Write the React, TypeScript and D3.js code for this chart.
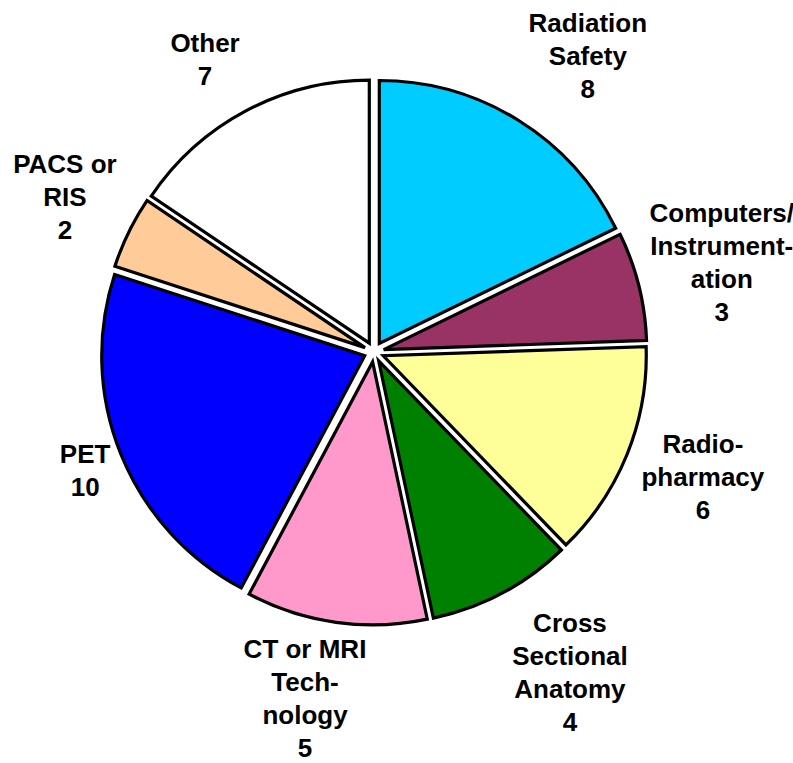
import * as d3 from 'd3';
import { useEffect, useRef } from 'react';

// data
const categories = [
  'Radiation\nSafety',
  'Computers/\nInstrument-\nation',
  'Radio-\npharmacy',
  'Cross\nSectional\nAnatomy',
  'CT or MRI\nTech-\nnology',
  'PET',
  'PACS or\nRIS',
  'Other'
];
const counts = [8, 3, 6, 4, 5, 10, 2, 7];
const colors = ['#00CCFF', '#993366', '#FFFF99', '#008000', '#FF99CC', '#0000FF', '#FFCC99', '#FFFFFF'];

// small label nudges so they sit where the original put them
const labelNudge = [
  [31, -3],
  [13, -6],
  [9, -4],
  [34, 16],
  [-21, 5],
  [31, -11],
  [1, -4],
  [-7, 12]
];

export default function App() {
  const ref = useRef<SVGSVGElement>(null);

  useEffect(() => {
    const svg = d3.select(ref.current);
    svg.selectAll('*').remove();

    const width = 793;
    const height = 763;
    const cx = 374;
    const cy = 352;
    const radius = 263;
    const explode = 10;
    const labelR = 345;
    const lineH = 33;

    const rows = categories.map((c, i) => ({ name: c, value: counts[i], color: colors[i], i }));

    const pie = d3
      .pie<any>()
      .sort(null)
      .value((d) => d.value);
    const arcs = pie(rows);

    const arc = d3.arc<any>().innerRadius(0).outerRadius(radius);
    const labelArc = d3.arc<any>().innerRadius(labelR).outerRadius(labelR);

    const g = svg.attr('width', width).attr('height', height).append('g').attr('transform', `translate(${cx},${cy})`);

    g.selectAll('.slice')
      .data(arcs)
      .join('path')
      .attr('class', 'slice')
      .attr('transform', (d) => {
        const mid = (d.startAngle + d.endAngle) / 2;
        return `translate(${explode * Math.sin(mid)},${-explode * Math.cos(mid)})`;
      })
      .attr('d', arc)
      .attr('fill', (d) => d.data.color)
      .attr('stroke', '#000')
      .attr('stroke-width', 3.2)
      .attr('stroke-linejoin', 'miter');

    const labels = g
      .selectAll('.label')
      .data(arcs)
      .join('text')
      .attr('class', 'label')
      .attr('text-anchor', 'middle')
      .style('font-family', '"Liberation Sans", Arial, sans-serif')
      .style('font-weight', 'bold')
      .style('font-size', '26px')
      .attr('fill', '#000');

    labels.each(function (d) {
      const [x0, y0] = labelArc.centroid(d);
      const [nx, ny] = labelNudge[d.data.i];
      const lines = [...d.data.name.split('\n'), String(d.data.value)];
      const x = x0 + nx;
      const top = y0 + ny - ((lines.length - 1) * lineH) / 2 + 9;
      d3.select(this)
        .selectAll('tspan')
        .data(lines)
        .join('tspan')
        .attr('x', x)
        .attr('y', (_, k) => top + k * lineH)
        .text((t) => t);
    });
  }, []);

  return <svg ref={ref} style={{ position: 'absolute', left: 0, top: 0, display: 'block', background: '#fff' }} />;
}
